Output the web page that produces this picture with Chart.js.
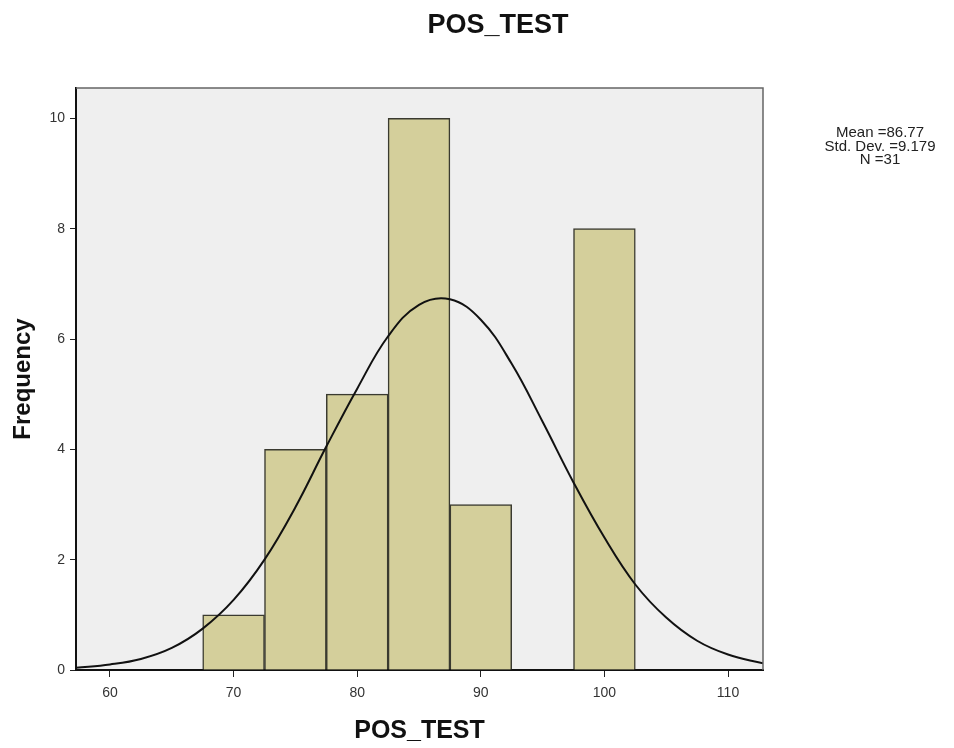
<!DOCTYPE html>
<html>
<head>
<meta charset="utf-8">
<script src="https://cdn.jsdelivr.net/npm/chart.js@4.4.0/dist/chart.umd.min.js"></script>
<style>
  html, body { margin: 0; padding: 0; background: #fff; }
  #histChart { display: block; }
</style>
</head>
<body>
<canvas id="histChart" width="954" height="748"></canvas>
<script>
// bin centres (width 5) and counts
const binCenters = [70, 75, 80, 85, 90, 95, 100];
const frequencies = [1, 4, 5, 10, 3, 0, 8];

// normal curve
const curveX = [57.25, 60, 62.5, 65, 67.5, 70, 72.5, 75, 77.5, 80, 82.5, 85, 87.5, 90, 92.5, 95, 97.5, 100, 102.5, 105, 107.5, 110, 112.83];
const curveY = [0.04, 0.1, 0.2, 0.4, 0.75, 1.27, 2.0, 2.95, 4.05, 5.1, 6.05, 6.62, 6.72, 6.35, 5.55, 4.5, 3.4, 2.4, 1.55, 0.95, 0.53, 0.28, 0.12];

const xTicks = [60, 70, 80, 90, 100, 110];
const yTicks = [0, 2, 4, 6, 8, 10];
const statLines = ['Mean =86.77', 'Std. Dev. =9.179', 'N =31'];

const FONT = '"Liberation Sans", Arial, sans-serif';
const ctx = document.getElementById('histChart').getContext('2d');

// plot background, frame and side texts
const decorations = {
  id: 'decorations',
  beforeDraw(chart) {
    const { ctx, chartArea: a } = chart;
    ctx.save();
    ctx.fillStyle = '#efefef';
    ctx.fillRect(a.left, a.top, a.right - a.left, a.bottom - a.top);
    ctx.restore();
  },
  afterDraw(chart) {
    const { ctx, chartArea: a } = chart;
    ctx.save();
    ctx.strokeStyle = '#666';
    ctx.lineWidth = 1.5;
    ctx.beginPath();
    ctx.moveTo(a.left, a.top);
    ctx.lineTo(a.right, a.top);
    ctx.lineTo(a.right, a.bottom);
    ctx.stroke();

    ctx.fillStyle = '#111';
    ctx.textAlign = 'center';
    ctx.textBaseline = 'alphabetic';
    ctx.font = 'bold 27px ' + FONT;
    ctx.fillText('POS_TEST', 498, 33);

    ctx.textBaseline = 'middle';
    ctx.font = '15px ' + FONT;
    ctx.fillStyle = '#222';
    statLines.forEach((t, i) => ctx.fillText(t, 880, 133 + i * 13.5));
    ctx.restore();
  }
};

new Chart(ctx, {
  data: {
    datasets: [
      {
        type: 'line',
        data: curveX.map((x, i) => ({ x: x, y: curveY[i] })),
        borderColor: '#111',
        borderWidth: 2,
        pointRadius: 0,
        tension: 0.4,
        fill: false,
        order: 0
      },
      {
        type: 'bar',
        data: binCenters.map((x, i) => ({ x: x, y: frequencies[i] })),
        backgroundColor: '#d4cf9b',
        borderColor: '#3a3a30',
        borderWidth: 1.5,
        barPercentage: 1,
        categoryPercentage: 1,
        order: 1
      }
    ]
  },
  options: {
    responsive: false,
    animation: false,
    layout: { padding: { top: 88, right: 191, left: 0, bottom: 0 } },
    plugins: {
      legend: { display: false },
      tooltip: { enabled: false }
    },
    scales: {
      x: {
        type: 'linear',
        min: 57.25,
        max: 112.83,
        offset: false,
        afterBuildTicks: s => { s.ticks = xTicks.map(v => ({ value: v })); },
        afterFit: s => { s.height = 78; },
        grid: { display: true, drawOnChartArea: false, drawTicks: true, tickLength: 7, color: '#222', offset: false },
        border: { display: true, color: '#111', width: 2 },
        ticks: {
          color: '#333',
          padding: 8,
          maxRotation: 0,
          font: { family: FONT, size: 14 }
        },
        title: {
          display: true,
          text: 'POS_TEST',
          color: '#111',
          padding: { bottom: 2 },
          font: { family: FONT, size: 25, weight: 'bold' }
        }
      },
      y: {
        min: 0,
        max: 10.55,
        afterBuildTicks: s => { s.ticks = yTicks.map(v => ({ value: v })); },
        afterFit: s => { s.width = 76; },
        grid: { display: true, drawOnChartArea: false, drawTicks: true, tickLength: 6, color: '#222' },
        border: { display: true, color: '#111', width: 2 },
        ticks: {
          color: '#333',
          padding: 5,
          font: { family: FONT, size: 14 }
        },
        title: {
          display: true,
          text: 'Frequency',
          color: '#111',
          padding: { top: 9 },
          font: { family: FONT, size: 24, weight: 'bold' }
        }
      }
    }
  },
  plugins: [decorations]
});
</script>
</body>
</html>
